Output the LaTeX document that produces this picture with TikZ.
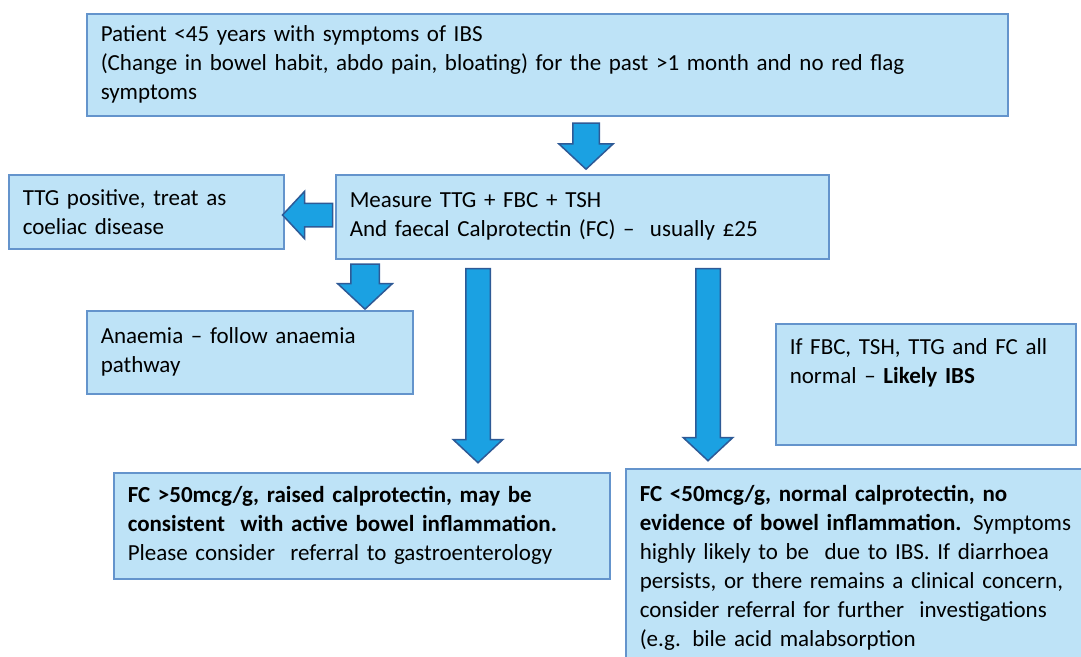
\documentclass[tikz,border=0pt]{standalone}
\usepackage{fontspec}
\setmainfont{Carlito}
\usepackage{xcolor}
\definecolor{boxblue}{HTML}{BEE3F7}
\definecolor{lineblue}{HTML}{6494CC}
\definecolor{arrowblue}{HTML}{1BA1E2}
\definecolor{arrowline}{HTML}{2E5A96}
\usepackage{tikz}
\usetikzlibrary{shapes.arrows}

\begin{document}
\begin{tikzpicture}[x=1pt, y=-1pt, font=\fontsize{23}{29}\selectfont,
    infobox/.style={draw=lineblue, fill=boxblue, line width=1.5pt, anchor=north west,
        align=left, inner xsep=14pt, inner ysep=0pt},
    blockarrow/.style={single arrow, draw=arrowline, fill=arrowblue, line width=1.5pt,
        inner xsep=0pt, single arrow tip angle=94}]
                        \useasboundingbox (0,0) rectangle (1081,656);
                        \clip (0,0) rectangle (1081,656);

                        \node (patient) at (86,13) [infobox, minimum width=921pt, minimum height=102pt, text width=893pt] {Patient <45 years with symptoms of IBS\\ (Change in bowel habit, abdo pain, bloating) for the past >1 month and no red flag\\ symptoms};
                        \node (measure) at (335,174) [infobox, minimum width=493pt, minimum height=84pt, text width=465pt] {Measure TTG + FBC + TSH\\ And faecal Calprotectin (FC) –\ \ usually £25};
                        \node (coeliac) at (8,174) [infobox, minimum width=275pt, minimum height=74pt, text width=247pt] {TTG positive, treat as\\ coeliac disease};
                        \node (anaemia) at (86,310) [infobox, minimum width=326pt, minimum height=83pt, text width=298pt] {Anaemia – follow anaemia\\ pathway};
                        \node (ibs) at (775,323) [infobox, minimum width=300pt, minimum height=121pt, text width=272pt, inner ysep=14pt, text depth=76pt] {If FBC, TSH, TTG and FC all\\ normal – \textbf{Likely IBS}};
                        \node (raised) at (113,472) [infobox, minimum width=496pt, minimum height=106pt, text width=468pt] {\textbf{FC >50mcg/g, raised calprotectin, may be}\\ \textbf{consistent\ \ with active bowel inflammation.}\\ Please consider\ \ referral to gastroenterology};
                        \node (normal) at (625,468) [infobox, minimum width=470pt, minimum height=198pt, text width=442pt] {\textbf{FC <50mcg/g, normal calprotectin, no}\\ \textbf{evidence of bowel inflammation.} Symptoms\\ highly likely to be\ \ due to IBS. If diarrhoea\\ persists, or there remains a clinical concern,\\ consider referral for further\ \ investigations\\ (e.g. bile acid malabsorption};

                        \node (down1) at (586,140) [blockarrow, rotate=-90, minimum height=46pt, inner ysep=12.5pt, single arrow head extend=14pt] {};
                        \node (left1) at (313,215) [blockarrow, rotate=180, minimum height=50pt, inner ysep=11pt, single arrow head extend=12pt] {};
                        \node (down2) at (365,280) [blockarrow, rotate=-90, minimum height=45pt, inner ysep=13.5pt, single arrow head extend=13pt] {};
                        \node (down3) at (478,360) [blockarrow, rotate=-90, minimum height=194pt, inner ysep=11.5pt, single arrow head extend=12.5pt] {};
                        \node (down4) at (708,359) [blockarrow, rotate=-90, minimum height=192pt, inner ysep=11.5pt, single arrow head extend=12.5pt] {};
                    \end{tikzpicture}
\end{document}
